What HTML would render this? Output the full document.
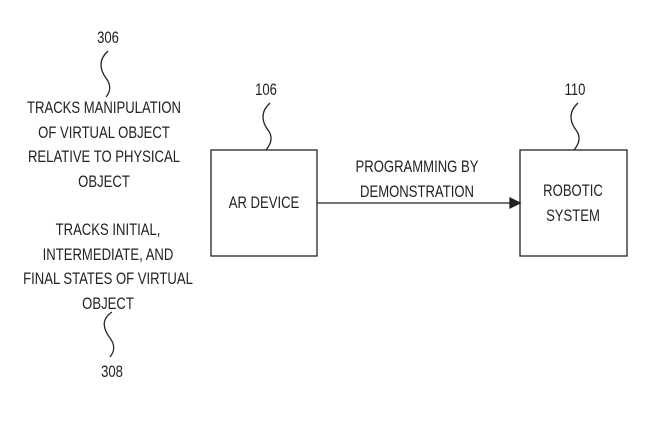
<!DOCTYPE html>
<html><head><meta charset="utf-8"><style>
body{margin:0;background:#fff;width:655px;height:430px;overflow:hidden;position:relative;font-family:"Liberation Sans",sans-serif;color:#222}
.t{position:absolute;font-size:17px;line-height:24.5px;text-align:center;white-space:nowrap;transform:translateX(-50%) scaleX(0.77);}
</style></head><body>
<svg width="655" height="430" style="position:absolute;left:0;top:0" fill="none" stroke="#222" stroke-width="1.3">
<rect x="211" y="150" width="106" height="106"/>
<rect x="520" y="150" width="107" height="106"/>
<line x1="317" y1="203" x2="512" y2="203"/>
<polygon points="520,203 510,198 510,208" fill="#222"/>
<path d="M270,103 C260,112 262,122 268,130 C274,138 270,145 266,150"/>
<path d="M578,103 C568,112 570,122 576,130 C582,138 578,145 574,150"/>
<path d="M108,51 C98,60 100,70 106,78 C112,86 110,92 106,97"/>
<path d="M112,312 C100,320 104,330 110,338 C116,346 114,352 110,357"/>
</svg>
<div class="t" style="left:108px;top:26px">306</div>
<div class="t" style="left:104px;top:96px">TRACKS MANIPULATION<br>OF VIRTUAL OBJECT<br>RELATIVE TO PHYSICAL<br>OBJECT</div>
<div class="t" style="left:108px;top:218px">TRACKS INITIAL,<br>INTERMEDIATE, AND<br>FINAL STATES OF VIRTUAL<br>OBJECT</div>
<div class="t" style="left:112px;top:360px">308</div>
<div class="t" style="left:266px;top:78px">106</div>
<div class="t" style="left:575px;top:78px">110</div>
<div class="t" style="left:264px;top:191px">AR DEVICE</div>
<div class="t" style="left:417px;top:155px">PROGRAMMING BY<br>DEMONSTRATION</div>
<div class="t" style="left:573px;top:179px">ROBOTIC<br>SYSTEM</div>
</body></html>
